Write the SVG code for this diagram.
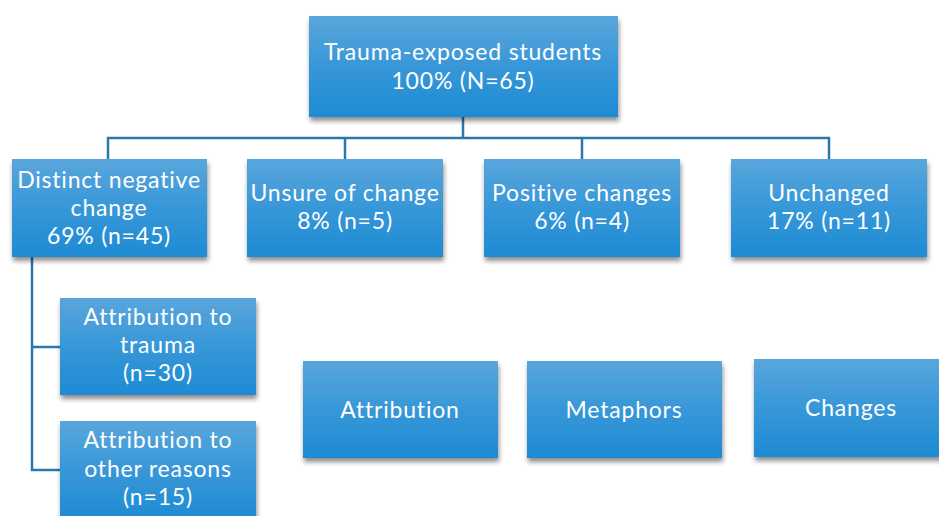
<svg xmlns="http://www.w3.org/2000/svg" width="939" height="516" viewBox="0 0 939 516">
<defs>
<linearGradient id="g" x1="0" y1="0" x2="0" y2="1">
<stop offset="0" stop-color="#5aa6dc"/>
<stop offset="0.5" stop-color="#3797d8"/>
<stop offset="1" stop-color="#1e8bd3"/>
</linearGradient>
<filter id="sh" x="-10%" y="-10%" width="125%" height="130%">
<feGaussianBlur in="SourceAlpha" stdDeviation="2.5"/>
<feOffset dx="1" dy="4" result="b"/>
<feComponentTransfer><feFuncA type="linear" slope="0.45"/></feComponentTransfer>
<feMerge><feMergeNode/><feMergeNode in="SourceGraphic"/></feMerge>
</filter>
</defs>
<style>
.box{fill:url(#g);filter:url(#sh)}
.t{font-family:Lato,"Open Sans","Liberation Sans",sans-serif;font-size:23px;letter-spacing:0.8px;fill:#ffffff;text-anchor:middle}
.c{fill:none;stroke:#2a77ab;stroke-width:2.5}
</style>
<rect width="939" height="516" fill="#ffffff"/>
<g id="connectors">
<path class="c" d="M463 117 V138 M108 159 V138 H829 V159 M345 138 V159 M582 138 V159"/>
<path class="c" d="M32 257 V470 H60 M32 347 H60"/>
</g>
<g id="root">
<rect class="box" x="309" y="16" width="309" height="101"/>
<text class="t" x="463" y="60">Trauma-exposed students</text>
<text class="t" x="463" y="89">100% (N=65)</text>
</g>
<g id="negative">
<rect class="box" x="12" y="159" width="195" height="98"/>
<text class="t" x="109" y="188">Distinct negative</text>
<text class="t" x="109" y="216">change</text>
<text class="t" x="109" y="244">69% (n=45)</text>
</g>
<g id="unsure">
<rect class="box" x="247" y="159" width="196" height="98"/>
<text class="t" x="345" y="201">Unsure of change</text>
<text class="t" x="345" y="229">8% (n=5)</text>
</g>
<g id="positive">
<rect class="box" x="484" y="159" width="196" height="98"/>
<text class="t" x="582" y="201">Positive changes</text>
<text class="t" x="582" y="229">6% (n=4)</text>
</g>
<g id="unchanged">
<rect class="box" x="731" y="159" width="196" height="98"/>
<text class="t" x="829" y="201">Unchanged</text>
<text class="t" x="829" y="229">17% (n=11)</text>
</g>
<g id="attr-trauma">
<rect class="box" x="60" y="298" width="196" height="97"/>
<text class="t" x="158" y="325">Attribution to</text>
<text class="t" x="158" y="353">trauma</text>
<text class="t" x="158" y="381">(n=30)</text>
</g>
<g id="attr-other">
<rect class="box" x="60" y="421" width="196" height="100"/>
<text class="t" x="158" y="448">Attribution to</text>
<text class="t" x="158" y="477">other reasons</text>
<text class="t" x="158" y="505">(n=15)</text>
</g>
<g id="attribution">
<rect class="box" x="303" y="361" width="195" height="97"/>
<text class="t" x="400" y="418">Attribution</text>
</g>
<g id="metaphors">
<rect class="box" x="527" y="361" width="195" height="97"/>
<text class="t" x="624" y="418">Metaphors</text>
</g>
<g id="changes">
<rect class="box" x="754" y="359" width="195" height="98"/>
<text class="t" x="851" y="416">Changes</text>
</g>
</svg>
